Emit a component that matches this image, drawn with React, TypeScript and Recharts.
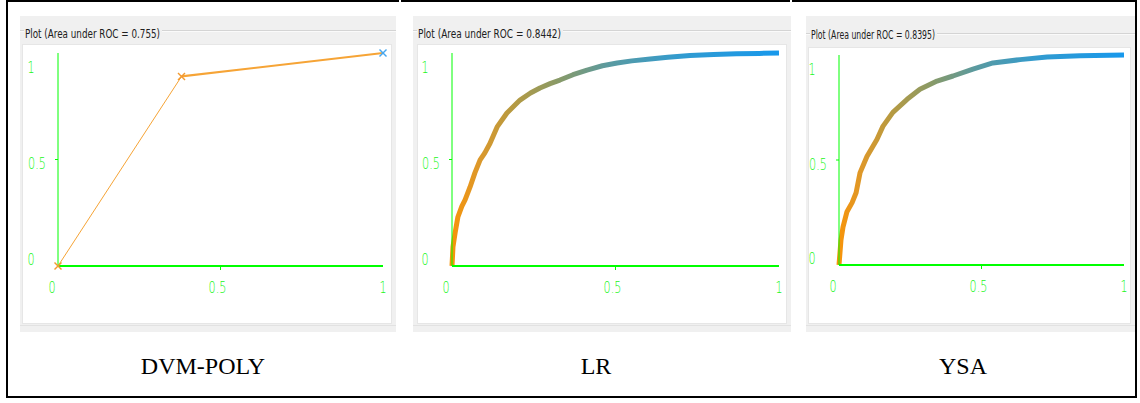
import React from 'react';
import { LineChart, Line, XAxis, YAxis } from 'recharts';

// ---- data ----
const captions = ['DVM-POLY', 'LR', 'YSA'];
const aucValues = ['0.755', '0.8442', '0.8395'];
const tickValues = [0, 0.5, 1];
const tickLabels = ['0', '0.5', '1'];

const dvmFpr = [0, 0.38, 1];
const dvmTpr = [0, 0.89, 1];

const lrFpr = [0, 0.003, 0.01, 0.018, 0.03, 0.04, 0.055, 0.07, 0.086, 0.1, 0.116, 0.138, 0.168, 0.208, 0.24, 0.269, 0.3, 0.33, 0.37, 0.413, 0.46, 0.505, 0.55, 0.606, 0.66, 0.728, 0.8, 0.87, 0.94, 1];
const lrTpr = [0, 0.09, 0.16, 0.23, 0.28, 0.31, 0.37, 0.437, 0.498, 0.53, 0.575, 0.653, 0.718, 0.779, 0.812, 0.836, 0.856, 0.873, 0.898, 0.92, 0.94, 0.953, 0.963, 0.972, 0.98, 0.988, 0.993, 0.996, 0.998, 1];

const ysaFpr = [0, 0.007, 0.014, 0.028, 0.046, 0.06, 0.074, 0.098, 0.133, 0.154, 0.189, 0.239, 0.284, 0.344, 0.4, 0.47, 0.54, 0.635, 0.73, 0.846, 1];
const ysaTpr = [0, 0.12, 0.18, 0.254, 0.297, 0.344, 0.44, 0.517, 0.598, 0.66, 0.727, 0.789, 0.837, 0.876, 0.9, 0.933, 0.962, 0.978, 0.99, 0.997, 1];

const toRows = (xs: number[], ys: number[]) => xs.map((x, i) => ({ x, y: ys[i] }));

const GREEN = '#00ff00';

type Geo = {
  frame: { l: number; t: number; r: number; b: number };
  white: { l: number; t: number; r: number; b: number };
  axisX: number; axisY: number; axisEnd: number; axisTop: number;
  titleW: number; titleBase: number; grooveY: number;
};

const geos: Geo[] = [
  { frame: { l: 20, t: 16, r: 396, b: 332 }, white: { l: 23, t: 45, r: 391, b: 323 }, axisX: 58, axisY: 266, axisEnd: 383, axisTop: 53, titleW: 135, titleBase: 38, grooveY: 30 },
  { frame: { l: 413, t: 16, r: 791, b: 332 }, white: { l: 418, t: 45, r: 786, b: 323 }, axisX: 452, axisY: 266, axisEnd: 779, axisTop: 53, titleW: 143, titleBase: 38, grooveY: 30 },
  { frame: { l: 806, t: 16, r: 1135, b: 332 }, white: { l: 809, t: 48, r: 1130, b: 323 }, axisX: 839, axisY: 265, axisEnd: 1124, axisTop: 55, titleW: 124, titleBase: 39, grooveY: 33 },
];

const labelFor = (v: number) => tickLabels[tickValues.indexOf(v)] ?? String(v);

const TickText = ({ x, y, s }: { x: number; y: number; s: string }) => (
  <text
    transform={`translate(${x},${y}) scale(0.7,1)`}
    textAnchor="middle"
    fontFamily="'DejaVu Sans', sans-serif"
    fontWeight={300}
    fontSize={16}
    fill="#19f519"
  >
    {s}
  </text>
);

const makeXTick = (axisY: number) => (props: any) => {
  const { x, payload } = props;
  const v = payload.value;
  const dx = v === 0 ? -6 : v === 0.5 ? -3 : 0;
  return (
    <g>
      {v === 0.5 && <line x1={x} x2={x} y1={axisY} y2={axisY + 4} stroke={GREEN} strokeWidth={1} />}
      <TickText x={x + dx} y={axisY + 27} s={labelFor(v)} />
    </g>
  );
};

const makeYTick = (axisX: number) => (props: any) => {
  const { y, payload } = props;
  const v = payload.value;
  const dy = v === 1 ? 20 : v === 0.5 ? 9.5 : -1;
  const cx = v === 0.5 ? axisX - 21 : axisX - 27;
  return (
    <g>
      {v === 0.5 && <line x1={axisX - 3} x2={axisX} y1={y} y2={y} stroke={GREEN} strokeWidth={1} />}
      <TickText x={cx} y={y + dy} s={labelFor(v)} />
    </g>
  );
};

const XMark = (color: string, key: any, cx: number, cy: number) => (
  <g key={key}>
    <line x1={cx - 3.5} y1={cy - 3.5} x2={cx + 3.5} y2={cy + 3.5} stroke={color} strokeWidth={1.4} />
    <line x1={cx - 3.5} y1={cy + 3.5} x2={cx + 3.5} y2={cy - 3.5} stroke={color} strokeWidth={1.4} />
  </g>
);

const Panel = ({ idx }: { idx: number }) => {
  const g = geos[idx];
  const fw = g.frame.r - g.frame.l;
  const fh = g.frame.b - g.frame.t;
  const w = g.white.r - g.white.l;
  const h = g.white.b - g.white.t;
  const yAxisW = g.axisX - g.white.l;
  const xAxisH = g.white.b - g.axisY;
  const margin = {
    left: 0,
    top: g.axisTop - g.white.t,
    right: g.white.r - g.axisEnd,
    bottom: 0,
  };
  const title = `Plot (Area under ROC = ${aucValues[idx]})`;
  const gid = `grad${idx}`;
  const localAxisX = g.axisX - g.white.l;
  const localAxisY = g.axisY - g.white.t;

  let lines: React.ReactNode;
  if (idx === 0) {
    const rows = toRows(dvmFpr, dvmTpr);
    const dotA = (p: any) => (p.cx == null ? <g key={p.index} /> : XMark('#f39a30', p.index, p.cx, p.cy));
    const dotB = (p: any) =>
      p.cx == null ? <g key={p.index} /> : p.index === 1 ? XMark('#45a6f0', p.index, p.cx, p.cy) : <g key={p.index} />;
    lines = [
      <Line key="a" data={rows.slice(0, 2)} dataKey="y" stroke="#f6a436" strokeWidth={1} dot={dotA} isAnimationActive={false} />,
      <Line key="b" data={rows.slice(1, 3)} dataKey="y" stroke="#f6a436" strokeWidth={2.2} dot={dotB} isAnimationActive={false} />,
    ];
  } else {
    const rows = idx === 1 ? toRows(lrFpr, lrTpr) : toRows(ysaFpr, ysaTpr);
    lines = (
      <Line data={rows} dataKey="y" stroke={`url(#${gid})`} strokeWidth={5} strokeLinejoin="round" strokeLinecap="butt" dot={false} isAnimationActive={false} />
    );
  }

  return (
    <>
      <div style={{ position: 'absolute', left: g.frame.l, top: g.frame.t, width: fw, height: fh, background: '#f0f0f0' }} />
      <div style={{ position: 'absolute', left: g.frame.l, top: g.white.b + 2, width: fw, height: 1, background: '#e2e2e2' }} />
      <div style={{ position: 'absolute', left: g.white.l - 1, top: g.white.t - 1, width: w + 2, height: h + 2, background: '#e6e6e6' }} />
      <div style={{ position: 'absolute', left: g.white.l, top: g.white.t, width: w, height: h, background: '#ffffff' }} />
      <svg style={{ position: 'absolute', left: g.frame.l, top: 0 }} width={fw} height={g.white.t - 1}>
        <line x1={0} x2={fw} y1={g.grooveY + 0.5} y2={g.grooveY + 0.5} stroke="#d4d4d4" strokeWidth={1} />
        <line x1={0} x2={fw} y1={g.grooveY + 1.5} y2={g.grooveY + 1.5} stroke="#fafafa" strokeWidth={1} />
        <rect x={4} y={g.grooveY - 10} width={g.titleW + 3} height={22} fill="#f0f0f0" />
        <text x={5} y={g.titleBase} fontFamily="'DejaVu Sans', sans-serif" fontSize={13} fill="#202020" textLength={g.titleW} lengthAdjust="spacingAndGlyphs">
          {title}
        </text>
      </svg>
      <div style={{ position: 'absolute', left: g.white.l, top: g.white.t }}>
        <LineChart width={w} height={h} margin={margin} style={{ overflow: 'visible' }}>
          <defs>
            <linearGradient id={gid} x1="0" y1="0" x2="1" y2="0">
              <stop offset="0%" stopColor="#f7940a" />
              <stop offset="8%" stopColor="#dd982a" />
              <stop offset="18%" stopColor="#b89a40" />
              <stop offset="32%" stopColor="#8a9a66" />
              <stop offset="48%" stopColor="#5a9aa0" />
              <stop offset="70%" stopColor="#319bd0" />
              <stop offset="100%" stopColor="#1798ec" />
            </linearGradient>
          </defs>
          <XAxis
            dataKey="x"
            type="number"
            domain={[0, 1]}
            ticks={tickValues}
            height={xAxisH}
            tickSize={0}
            tickMargin={0}
            tickLine={false}
            axisLine={{ stroke: GREEN, strokeWidth: 2 }}
            tick={makeXTick(localAxisY)}
            interval={0}
          />
          <YAxis
            type="number"
            domain={[0, 1]}
            ticks={tickValues}
            width={yAxisW}
            tickSize={0}
            tickMargin={0}
            tickLine={false}
            axisLine={{ stroke: GREEN, strokeWidth: 1 }}
            tick={makeYTick(localAxisX)}
            interval={0}
          />
          {lines}
        </LineChart>
      </div>
    </>
  );
};

const cellCenters = [203, 596, 963];

export default function App() {
  return (
    <div style={{ position: 'absolute', left: 0, top: 0, width: 1140, height: 403, background: '#ffffff', overflow: 'hidden' }}>
      <div style={{ position: 'absolute', left: 6, top: 0, width: 393, height: 2, background: '#000' }} />
      <div style={{ position: 'absolute', left: 401, top: 0, width: 389, height: 2, background: '#000' }} />
      <div style={{ position: 'absolute', left: 792, top: 0, width: 345, height: 2, background: '#000' }} />
      <div style={{ position: 'absolute', left: 6, top: 0, width: 2, height: 398, background: '#000' }} />
      <div style={{ position: 'absolute', left: 1135, top: 0, width: 2, height: 398, background: '#000' }} />
      <div style={{ position: 'absolute', left: 6, top: 396, width: 1131, height: 2, background: '#000' }} />
      {geos.map((_, i) => (
        <Panel key={i} idx={i} />
      ))}
      <svg style={{ position: 'absolute', left: 0, top: 0 }} width={1140} height={403}>
        {captions.map((c, i) => (
          <text key={c} x={cellCenters[i]} y={374} textAnchor="middle" fontFamily="'Liberation Serif', 'DejaVu Serif', serif" fontSize={24} fill="#000">
            {c}
          </text>
        ))}
      </svg>
    </div>
  );
}
